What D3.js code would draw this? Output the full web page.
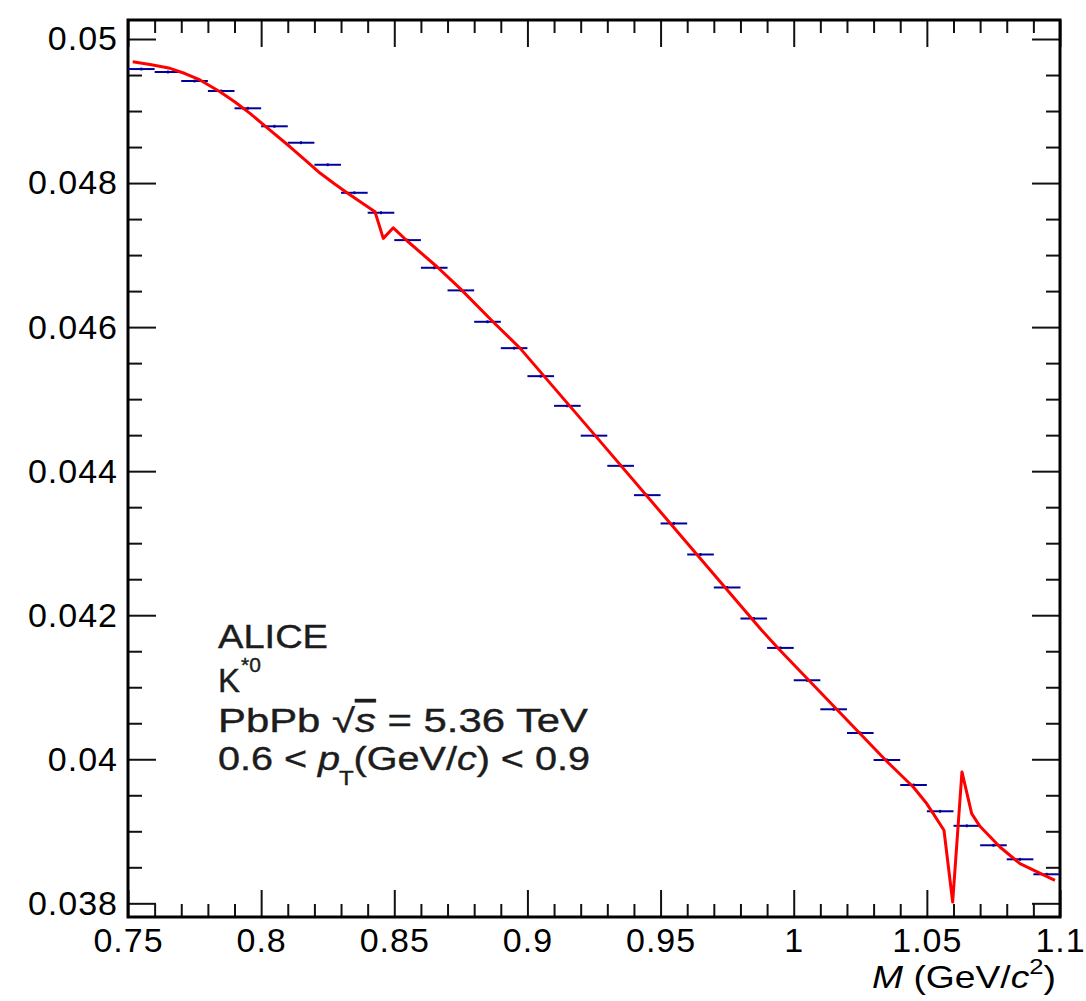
<!DOCTYPE html>
<html>
<head>
<meta charset="utf-8">
<script src="https://cdn.jsdelivr.net/npm/d3@7"></script>
<style>
body { margin: 0; background: #fff; }
svg text { font-family: "Liberation Sans", Arial, Helvetica, sans-serif; }
</style>
</head>
<body>
<svg id="drawing_region"></svg>
<script>

// histogram bins (centres, contents, errors)
const binCenters = [0.755, 0.765, 0.775, 0.785, 0.795, 0.805, 0.815, 0.825, 0.835, 0.845,
                    0.855, 0.865, 0.875, 0.885, 0.895, 0.905, 0.915, 0.925, 0.935, 0.945,
                    0.955, 0.965, 0.975, 0.985, 0.995, 1.005, 1.015, 1.025, 1.035, 1.045,
                    1.055, 1.065, 1.075, 1.085, 1.095];
const binValues = [0.049583, 0.049542, 0.049417, 0.049278, 0.049038, 0.048788, 0.048560, 0.048254, 0.047865, 0.047588,
                   0.047208, 0.046824, 0.046510, 0.046074, 0.045708, 0.045319, 0.044907, 0.044493, 0.044074, 0.043667,
                   0.043274, 0.042843, 0.042385, 0.041954, 0.041546, 0.041097, 0.040694, 0.040365, 0.039990, 0.039643,
                   0.039278, 0.039076, 0.038806, 0.038611, 0.038403];
const binErrors = [0.00002, 0.00002, 0.00002, 0.00002, 0.00002, 0.00002, 0.00002, 0.00002, 0.00002, 0.00002,
                   0.00002, 0.00002, 0.00002, 0.00002, 0.00002, 0.00002, 0.00002, 0.00002, 0.00002, 0.00002,
                   0.00002, 0.00002, 0.00002, 0.00002, 0.00002, 0.00002, 0.00002, 0.00002, 0.00002, 0.00002,
                   0.00002, 0.00002, 0.00002, 0.00002, 0.00002];
const binWidth = 0.01;

// fit function
const fitX = [0.75176, 0.75826, 0.76577, 0.77140, 0.77704, 0.78455, 0.79018, 0.79581, 0.80332, 0.81083,
              0.81711, 0.82210, 0.82736, 0.83224, 0.84275, 0.84587, 0.84962, 0.85477, 0.86603, 0.87467,
              0.88706, 0.89720, 0.92725, 0.95729, 0.98797, 0.99484, 1.02488, 1.03491, 1.04489, 1.04993,
              1.05241, 1.05643, 1.05969, 1.06318, 1.06683, 1.06994, 1.07745, 1.08496, 1.09810];
const fitY = [0.049685, 0.049646, 0.049593, 0.049521, 0.049431, 0.049268, 0.049125, 0.048968, 0.048736, 0.048504,
              0.048301, 0.048139, 0.047993, 0.047865, 0.047601, 0.047232, 0.047379, 0.047199, 0.046838, 0.046538,
              0.046074, 0.045708, 0.044417, 0.043118, 0.041792, 0.041514, 0.040357, 0.039972, 0.039615, 0.039385,
              0.039246, 0.039014, 0.038018, 0.039824, 0.039246, 0.039069, 0.038782, 0.038551, 0.038319];

const xMajor = [0.75, 0.8, 0.85, 0.9, 0.95, 1.0, 1.05, 1.1];
const xLabels = ["0.75", "0.8", "0.85", "0.9", "0.95", "1", "1.05", "1.1"];
const yMajor = [0.038, 0.040, 0.042, 0.044, 0.046, 0.048, 0.050];
const yLabels = ["0.038", "0.04", "0.042", "0.044", "0.046", "0.048", "0.05"];

class HistFit {

    constructor( config ) {
        this.config = config;
    }

    render() {
        let self = this;
        const cfg = self.config;

        self.svg = d3.select( cfg.parent )
            .attr('width', cfg.width)
            .attr('height', cfg.height);

        const iw = cfg.width - cfg.margin.left - cfg.margin.right;
        const ih = cfg.height - cfg.margin.top - cfg.margin.bottom;

        self.chart = self.svg.append('g')
            .attr('transform', `translate(${cfg.margin.left}, ${cfg.margin.top})`);

        const xscale = d3.scaleLinear().domain(cfg.xdomain).range([0, iw]);
        const yscale = d3.scaleLinear().domain(cfg.ydomain).range([ih, 0]);

        // minor tick positions
        const xMinor = d3.range(76, 110).map(d => d / 100).filter(d => Math.abs(d * 20 - Math.round(d * 20)) > 1e-6);
        const yMinor = d3.range(76, 101).map(d => d / 2000).filter(d => Math.abs(d * 500 - Math.round(d * 500)) > 1e-6);

        const styleAxis = g => {
            g.select('.domain').remove();
            g.selectAll('.tick line').attr('stroke', '#111').attr('stroke-width', 2);
        };
        const styleLabels = g => {
            g.selectAll('text')
                .attr('font-size', '34px')
                .attr('letter-spacing', '1px')
                .attr('fill', '#000')
                .attr('font-family', '"Liberation Sans", Arial, sans-serif');
        };

        // bottom
        self.chart.append('g')
            .attr('transform', `translate(0, ${ih})`)
            .call( d3.axisBottom(xscale).tickValues(xMajor).tickSize(-27).tickPadding(11)
                   .tickFormat((d, i) => xLabels[i]) )
            .call(styleAxis)
            .call(styleLabels);
        self.chart.append('g')
            .attr('transform', `translate(0, ${ih})`)
            .call( d3.axisBottom(xscale).tickValues(xMinor).tickSize(-13).tickFormat('') )
            .call(styleAxis);
        // top
        self.chart.append('g')
            .call( d3.axisTop(xscale).tickValues(xMajor).tickSize(-27).tickFormat('') )
            .call(styleAxis);
        self.chart.append('g')
            .call( d3.axisTop(xscale).tickValues(xMinor).tickSize(-13).tickFormat('') )
            .call(styleAxis);
        // left
        self.chart.append('g')
            .call( d3.axisLeft(yscale).tickValues(yMajor).tickSize(-28).tickPadding(10)
                   .tickFormat((d, i) => yLabels[i]) )
            .call(styleAxis)
            .call(styleLabels);
        self.chart.append('g')
            .call( d3.axisLeft(yscale).tickValues(yMinor).tickSize(-14).tickFormat('') )
            .call(styleAxis);
        // right
        self.chart.append('g')
            .attr('transform', `translate(${iw}, 0)`)
            .call( d3.axisRight(yscale).tickValues(yMajor).tickSize(-28).tickFormat('') )
            .call(styleAxis);
        self.chart.append('g')
            .attr('transform', `translate(${iw}, 0)`)
            .call( d3.axisRight(yscale).tickValues(yMinor).tickSize(-14).tickFormat('') )
            .call(styleAxis);

        // frame
        self.chart.append('rect')
            .attr('x', 0).attr('y', 0)
            .attr('width', iw).attr('height', ih)
            .attr('fill', 'none')
            .attr('stroke', '#000')
            .attr('stroke-width', 3);

        // histogram points with error bars
        const bins = binCenters.map((c, i) => ({ x: c, y: binValues[i], e: binErrors[i] }));
        const pts = self.chart.append('g')
            .attr('stroke', '#00009a')
            .attr('stroke-width', 2);
        pts.selectAll('line.h')
            .data(bins)
            .enter()
            .append('line')
            .attr('class', 'h')
            .attr('x1', d => xscale(d.x - binWidth / 2))
            .attr('x2', d => xscale(d.x + binWidth / 2))
            .attr('y1', d => yscale(d.y))
            .attr('y2', d => yscale(d.y));
        pts.selectAll('line.v')
            .data(bins)
            .enter()
            .append('line')
            .attr('class', 'v')
            .attr('x1', d => xscale(d.x))
            .attr('x2', d => xscale(d.x))
            .attr('y1', d => yscale(d.y - d.e))
            .attr('y2', d => yscale(d.y + d.e));

        // fit curve
        const fit = fitX.map((x, i) => [x, fitY[i]]);
        self.chart.append('path')
            .datum(fit)
            .attr('fill', 'none')
            .attr('stroke', '#ff0000')
            .attr('stroke-width', 3)
            .attr('stroke-linejoin', 'round')
            .attr('d', d3.line().x(d => xscale(d[0])).y(d => yscale(d[1])));

        // x axis title
        const xt = self.svg.append('text')
            .attr('x', 872).attr('y', 988)
            .attr('font-size', '32px')
            .attr('textLength', 184)
            .attr('lengthAdjust', 'spacingAndGlyphs')
            .attr('fill', '#000');
        xt.append('tspan').attr('font-style', 'italic').text('M');
        xt.append('tspan').text(' (GeV/');
        xt.append('tspan').attr('font-style', 'italic').text('c');
        xt.append('tspan').attr('font-size', '22px').attr('dy', -14).text('2');
        xt.append('tspan').attr('dy', 14).text(')');

        // info text
        const info = self.svg.append('g')
            .attr('fill', '#1c1c1c')
            .attr('stroke', '#1c1c1c')
            .attr('stroke-width', 0.4)
            .attr('font-size', '33px');
        info.append('text').attr('x', 218).attr('y', 648)
            .attr('textLength', 110).attr('lengthAdjust', 'spacingAndGlyphs')
            .text('ALICE');
        const k = info.append('text').attr('x', 218).attr('y', 692);
        k.append('tspan').text('K');
        k.append('tspan').attr('font-size', '21px').attr('dy', -20).attr('dx', 1).text('*0');
        const pb = info.append('text').attr('x', 218).attr('y', 732)
            .attr('textLength', 370).attr('lengthAdjust', 'spacingAndGlyphs');
        pb.append('tspan').text('PbPb ');
        pb.append('tspan').text('\u221A');
        pb.append('tspan').attr('font-style', 'italic')
            .style('text-decoration', 'overline').text('s');
        pb.append('tspan').text(' = 5.36 TeV');
        const pt = info.append('text').attr('x', 218).attr('y', 770)
            .attr('textLength', 372).attr('lengthAdjust', 'spacingAndGlyphs');
        pt.append('tspan').text('0.6 < ');
        pt.append('tspan').attr('font-style', 'italic').text('p');
        pt.append('tspan').attr('font-size', '20px').attr('dy', 15).attr('dx', -1).text('T');
        pt.append('tspan').attr('dy', -15).text('(GeV/');
        pt.append('tspan').attr('font-style', 'italic').text('c');
        pt.append('tspan').text(') < 0.9');
    }
}

var config = {
    parent: '#drawing_region',
    width: 1086,
    height: 1001,
    margin: {top:20, right:26, bottom:84, left:128},
    xdomain: [0.75, 1.1],
    ydomain: [0.03781, 0.050264]
};

const plot = new HistFit( config );
plot.render();

</script>
</body>
</html>
